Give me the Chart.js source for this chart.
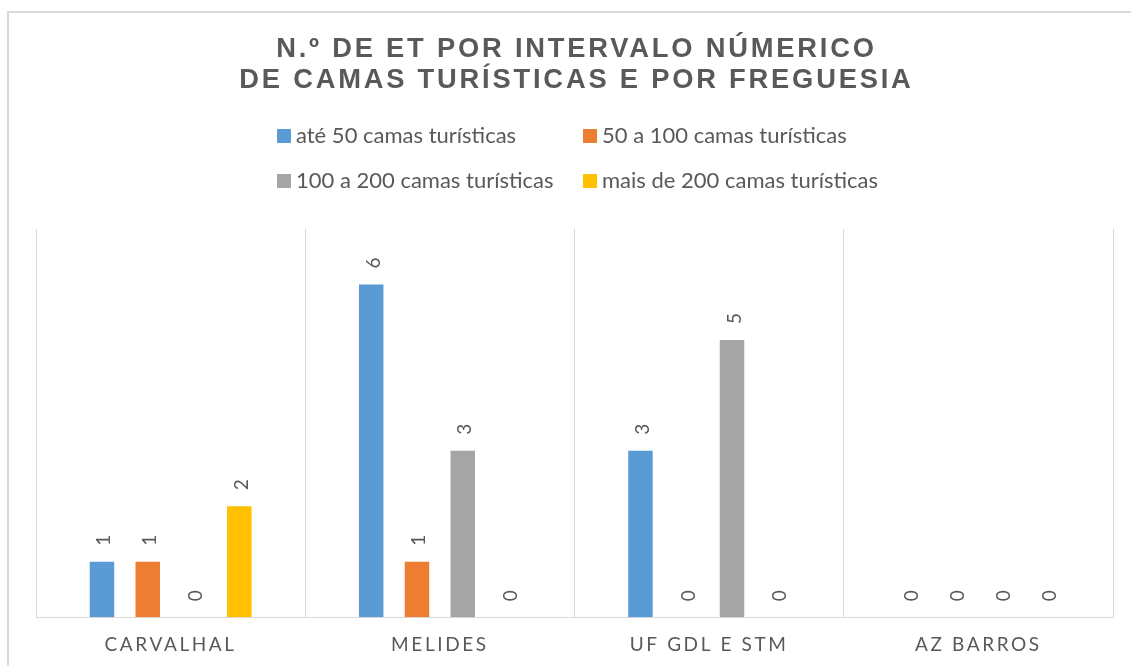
<!DOCTYPE html>
<html>
<head>
<meta charset="utf-8">
<script src="https://cdn.jsdelivr.net/npm/chart.js@4/dist/chart.umd.min.js"></script>
<style>
  html, body { margin: 0; padding: 0; background: #ffffff; overflow: hidden; width: 1131px; height: 666px; }
  #frame { position: absolute; left: 7px; top: 11px; width: 1136px; height: 674px; border: 2px solid #d9d9d9; box-sizing: border-box; background: #fff; }
  #c { display: block; }
</style>
</head>
<body>
<div id="frame"><canvas id="c" width="1132" height="670"></canvas></div>
<script>
// ---- data ----
const categories = ['CARVALHAL', 'MELIDES', 'UF GDL E STM', 'AZ BARROS'];
const seriesNames = ['até 50 camas turísticas', '50 a 100 camas turísticas', '100 a 200 camas turísticas', 'mais de 200 camas turísticas'];
const ate50 = [1, 6, 3, 0];
const de50a100 = [1, 1, 0, 0];
const de100a200 = [0, 3, 5, 0];
const mais200 = [2, 0, 0, 0];
const titleLines = ['N.º DE ET POR INTERVALO NÚMERICO', 'DE CAMAS TURÍSTICAS E POR FREGUESIA'];
const seriesColors = ['#5b9bd5', '#ed7d31', '#a5a5a5', '#ffc000'];

const TEXT = '#595959';

const customPlugin = {
  id: 'custom',
  beforeDraw(chart) {
    chart.ctx.letterSpacing = '2.6px';
  },
  beforeDatasetsDraw(chart) {
    chart.ctx.letterSpacing = '0px';
  },
  afterDatasetsDraw(chart) {
    const ctx = chart.ctx;
    ctx.save();
    ctx.letterSpacing = '0px';
    ctx.fillStyle = TEXT;
    ctx.font = '19px Lato';
    ctx.textAlign = 'left';
    ctx.textBaseline = 'alphabetic';
    chart.data.datasets.forEach((ds, i) => {
      const meta = chart.getDatasetMeta(i);
      meta.data.forEach((bar, j) => {
        ctx.save();
        ctx.translate(bar.x + 8.5, bar.y - 16);
        ctx.rotate(-Math.PI / 2);
        ctx.fillText(String(ds.data[j]), 0, 0);
        ctx.restore();
      });
    });
    ctx.restore();
  },
  afterDraw(chart) {
    const ctx = chart.ctx;
    const cx = chart.width / 2;
    ctx.save();
    // title
    ctx.fillStyle = TEXT;
    ctx.font = 'bold 27.3px "Liberation Sans"';
    ctx.letterSpacing = '2.8px';
    ctx.textAlign = 'center';
    ctx.textBaseline = 'alphabetic';
    ctx.fillText(titleLines[0], cx + 1.4, 44);
    ctx.fillText(titleLines[1], cx + 1.4, 75);
    // legend
    ctx.letterSpacing = '0px';
    ctx.font = '22px Lato';
    ctx.textAlign = 'left';
    const colX = [268, 574];
    const rowY = [130, 175];
    seriesNames.forEach((name, i) => {
      const x = colX[i % 2];
      const y = rowY[Math.floor(i / 2)];
      ctx.fillStyle = seriesColors[i];
      ctx.fillRect(x, y - 14, 14, 14);
      ctx.fillStyle = TEXT;
      ctx.fillText(name, x + 19, y);
    });
    ctx.restore();
  }
};

new Chart(document.getElementById('c'), {
  type: 'bar',
  data: {
    labels: categories,
    datasets: [
      { label: seriesNames[0], data: ate50, backgroundColor: seriesColors[0] },
      { label: seriesNames[1], data: de50a100, backgroundColor: seriesColors[1] },
      { label: seriesNames[2], data: de100a200, backgroundColor: seriesColors[2] },
      { label: seriesNames[3], data: mais200, backgroundColor: seriesColors[3] }
    ]
  },
  options: {
    responsive: false,
    animation: false,
    devicePixelRatio: 1,
    categoryPercentage: 0.68,
    barPercentage: 0.535,
    layout: { padding: { left: 27, right: 28, top: 216, bottom: 11 } },
    plugins: {
      legend: { display: false },
      title: { display: false },
      tooltip: { enabled: false }
    },
    scales: {
      x: {
        grid: { display: true, color: '#d9d9d9', lineWidth: 1, drawTicks: false, offset: true },
        border: { display: true, color: '#d9d9d9', width: 1 },
        ticks: { color: TEXT, font: { family: 'Lato', size: 19 }, padding: 16, maxRotation: 0 }
      },
      y: {
        display: false,
        min: 0,
        max: 7
      }
    }
  },
  plugins: [customPlugin]
});
</script>
</body>
</html>
